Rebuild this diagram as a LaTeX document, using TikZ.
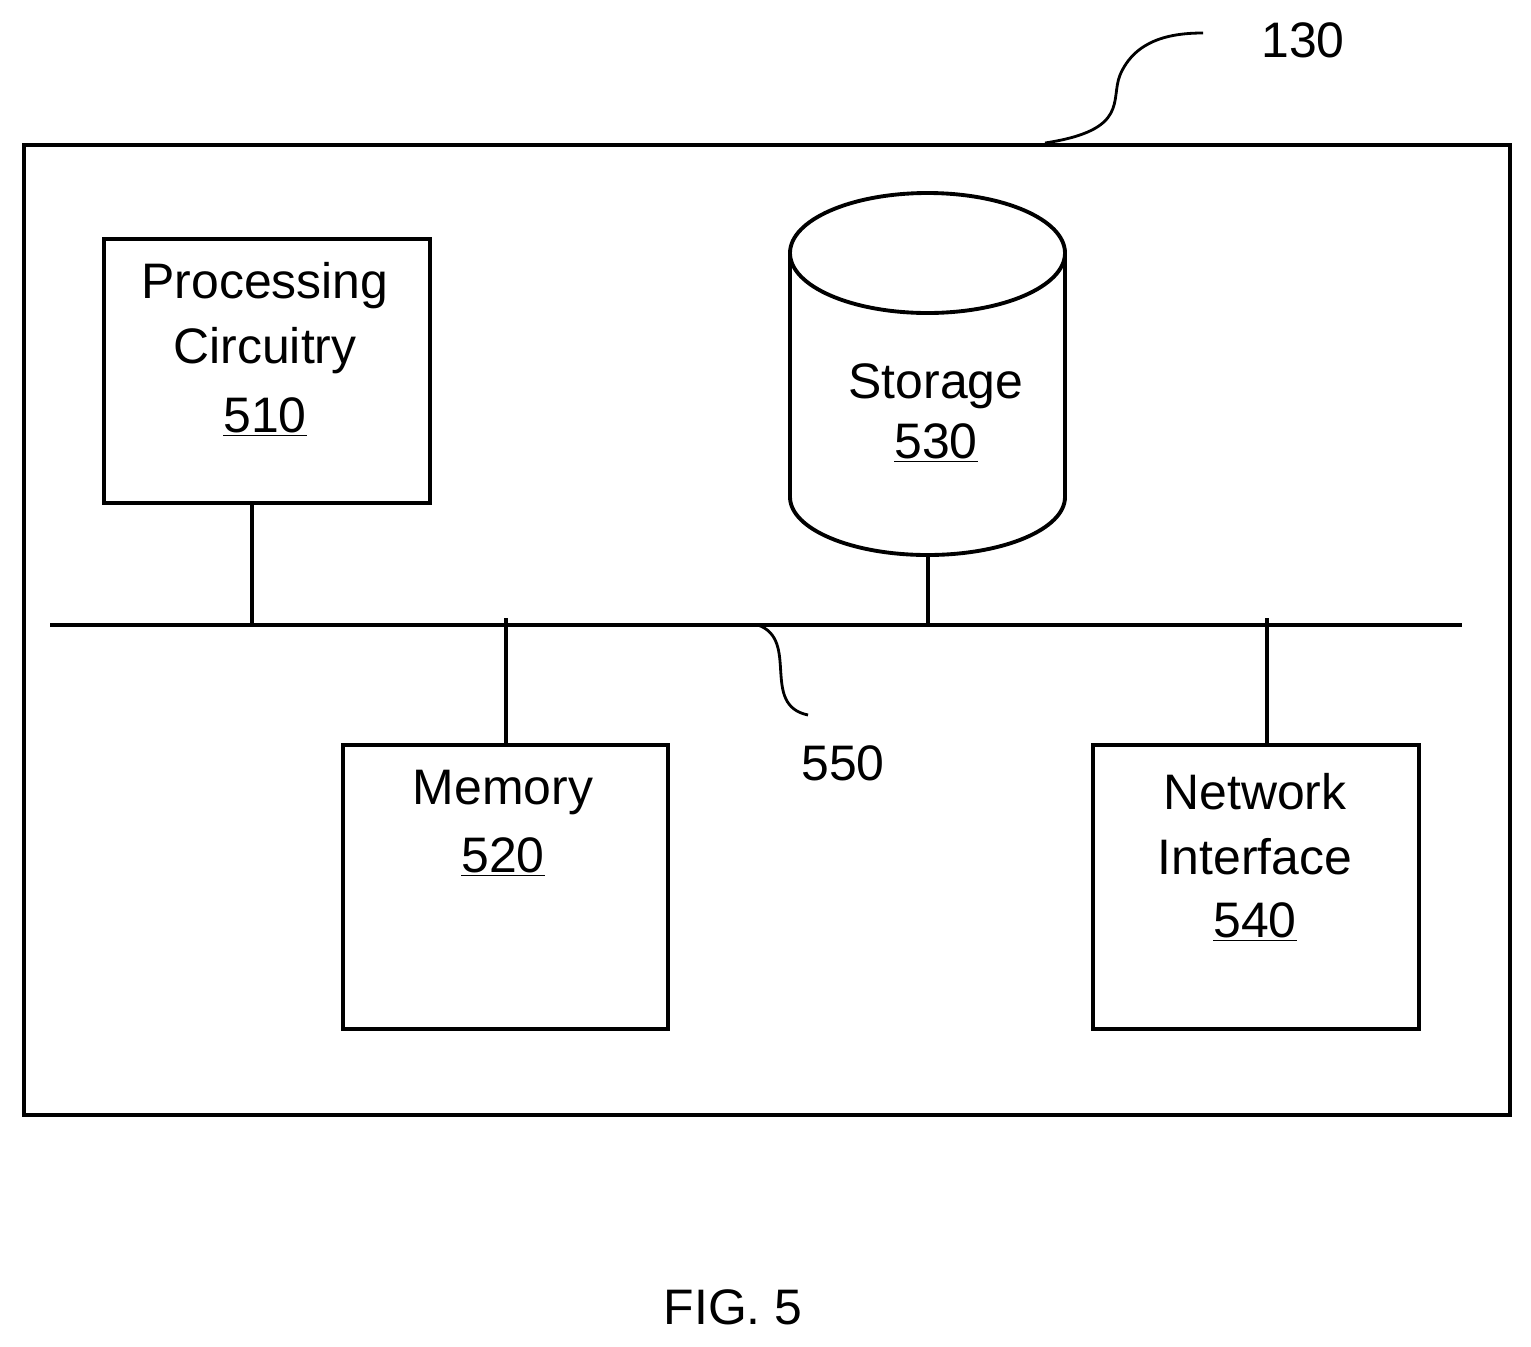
\documentclass[tikz,border=0pt]{standalone}
\usepackage{fontspec}
\setmainfont{Liberation Sans}
\begin{document}
\begin{tikzpicture}[x=0.02cm,y=-0.02cm,line width=2.2pt,
  txt/.style={font=\fontsize{28.4}{34}\selectfont,inner sep=0pt},
  box/.style={draw,inner sep=0pt}]
\useasboundingbox (0,0) rectangle (1531,1346);
\node[box,minimum width=1486*0.02cm,minimum height=970*0.02cm,anchor=north west] (outer) at (22,143) {};
\node[box,minimum width=326*0.02cm,minimum height=264*0.02cm,anchor=north west] (proc) at (102,237) {};
\node[box,minimum width=325*0.02cm,minimum height=284*0.02cm,anchor=north west] (mem) at (341,743) {};
\node[box,minimum width=326*0.02cm,minimum height=284*0.02cm,anchor=north west] (net) at (1091,743) {};
% cylinder
\draw (790,253) arc[start angle=180,end angle=540,x radius=137.5*0.02cm,y radius=60*0.02cm];
\draw (790,253) -- (790,497) arc[start angle=180,end angle=360,x radius=137.5*0.02cm,y radius=58*0.02cm] -- (1065,253);
\coordinate (stor) at (928,555);
% bus
\coordinate (busL) at (50,625); \coordinate (busR) at (1462,625);
\draw (busL) -- (busR);
\coordinate (b1) at (252,625); \coordinate (b2) at (506,618);
\coordinate (b3) at (928,625); \coordinate (b4) at (1267,618);
\draw (proc.south -| b1) -- (b1);
\draw (b2) -- (mem.north -| b2);
\draw (stor) -- (b3);
\draw (b4) -- (net.north -| b4);
% leaders
\coordinate (l550a) at (758,625); \coordinate (l550b) at (808,715);
\draw[line width=1.6pt] (l550a) .. controls (800,640) and (760,705) .. (l550b);
\coordinate (l130a) at (1045,143); \coordinate (l130b) at (1203,33);
\draw[line width=1.6pt] (l130a) .. controls (1130,130) and (1110,100) .. (1120,75) .. controls (1135,40) and (1170,33) .. (l130b);
% texts
\node[txt] (t1) at (265,286) {Processing};
\node[txt] (t2) at (265,351) {Circuitry};
\node[txt] (t3) at (265,417) {\underline{510}};
\node[txt] (t4) at (503,792) {Memory};
\node[txt] (t5) at (503,857) {\underline{520}};
\node[txt] (t6) at (1255,792) {Network};
\node[txt] (t7) at (1255,857) {Interface};
\node[txt] (t8) at (1255,922) {\underline{540}};
\node[txt] (t9) at (936,386) {Storage};
\node[txt] (t10) at (936,443) {\underline{530}};
\node[txt] (t11) at (1303,40) {130};
\node[txt] (t12) at (843,763) {550};
\node[txt] (t13) at (733,1307) {FIG. 5};
\end{tikzpicture}
\end{document}
